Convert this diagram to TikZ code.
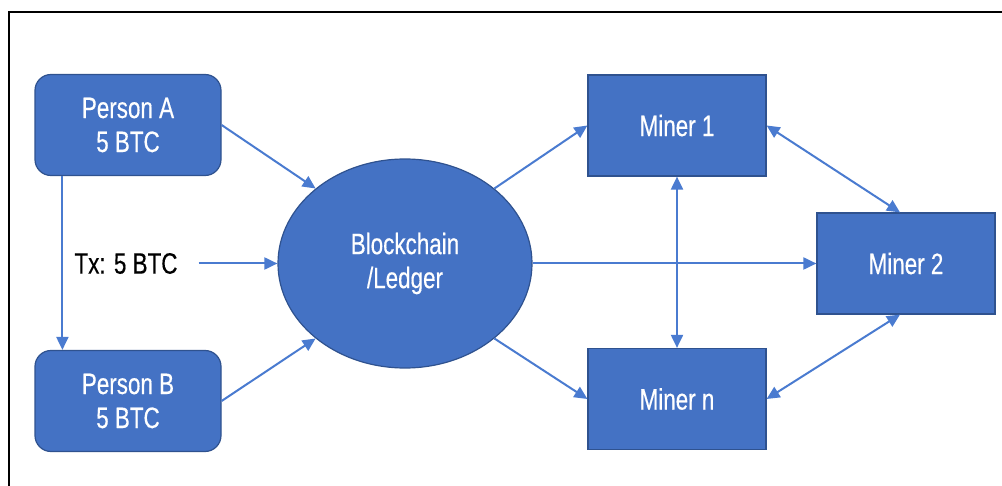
\documentclass[tikz,border=0pt]{standalone}
\usepackage{fontspec}
\setmainfont{Liberation Sans}[FakeStretch=0.76,FakeBold=0.4]
\usetikzlibrary{arrows.meta,shapes.geometric,calc}
\definecolor{bfill}{HTML}{4472C4}
\definecolor{bdraw}{HTML}{2F528F}
\definecolor{arr}{HTML}{4A7BD0}
\begin{document}
\begin{tikzpicture}[x=1pt,y=-1pt,
  lbl/.style={font=\fontsize{29.5}{34}\selectfont},
  box/.style={lbl,draw=bdraw,line width=1.2pt,fill=bfill,text=white,minimum width=178pt,minimum height=101pt,inner sep=0pt,align=center},
  pbox/.style={box,rounded corners=16pt,minimum width=186pt},
  conn/.style={draw=arr,line width=2pt,-{Triangle[length=13pt,width=12pt]}},
  bconn/.style={draw=arr,line width=2pt,{Triangle[length=13pt,width=12pt]}-{Triangle[length=13pt,width=12pt]}}]
\useasboundingbox (0,0) rectangle (1002,486);
\draw[line width=2pt] (9,490) -- (9,12) -- (1006,12);
\node[pbox] (A) at (128,125) {Person A\\5 BTC};
\node[pbox] (B) at (128,401) {Person B\\5 BTC};
\node[ellipse,lbl,draw=bdraw,line width=1.2pt,fill=bfill,text=white,minimum width=254pt,minimum height=209pt,inner sep=0pt,align=center] (E) at (405,263.5) {Blockchain\\/Ledger};
\node[lbl,inner sep=0pt] (tx) at (126,263.5) {Tx: 5 BTC};
\node[box] (m1) at (677,125.5) {Miner 1};
\node[box] (mn) at (677,399) {Miner n};
\node[box] (m2) at (906,263.5) {Miner 2};
\draw[conn] ([xshift=28pt]A.south west) -- ([xshift=28pt]B.north west);
\draw[conn] (A.east) -- (E.140);
\draw[conn] (B.east) -- (E.-140);
\draw[conn] ([xshift=21pt]tx.east) -- (E.west);
\draw[conn] (E.40) -- (m1.west);
\draw[conn] (E.-40) -- (mn.west);
\draw[conn] (E.east) -- (m2.west);
\draw[bconn] (m1.south) -- (mn.north);
\draw[bconn] (m1.east) -- ([xshift=-6pt]m2.north);
\draw[bconn] (mn.east) -- ([xshift=-6pt]m2.south);
\end{tikzpicture}
\end{document}
